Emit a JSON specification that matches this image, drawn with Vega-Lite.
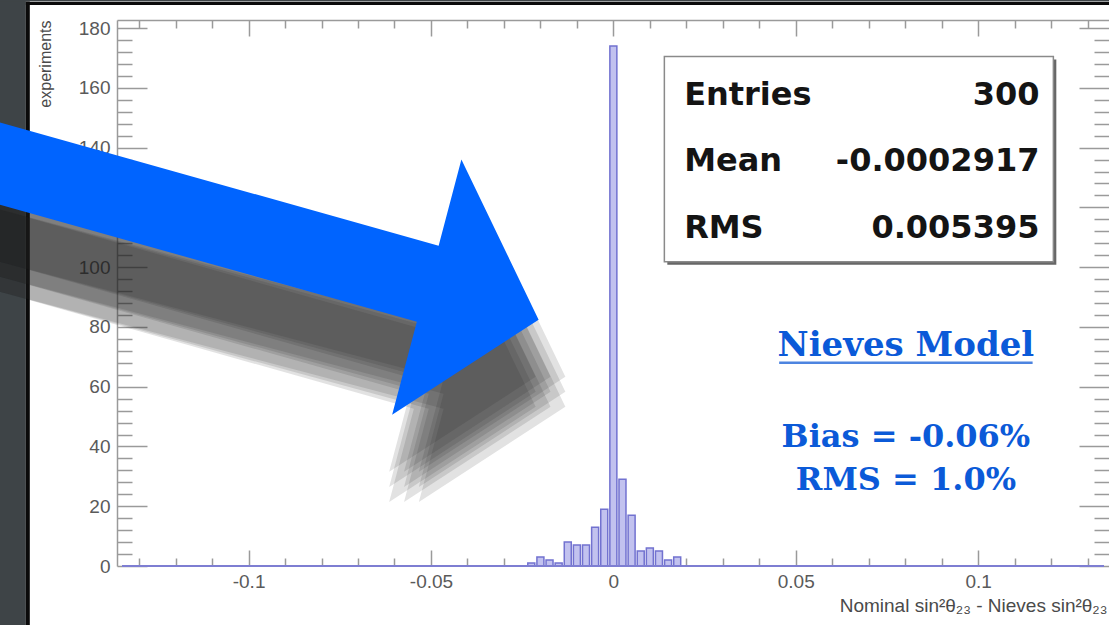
{
  "$schema": "https://vega.github.io/schema/vega-lite/v6.json",
  "autosize": {"type": "none"},
  "width": 992,
  "height": 546,
  "padding": {"left": 117, "top": 20, "right": 0, "bottom": 59},
  "background": "white",
  "config": {"view": {"stroke": null}},
  "data": {"values": [{}]},
  "datasets": {
    "hist": [
      {"x": -0.0225, "count": 1}, {"x": -0.02, "count": 3}, {"x": -0.0175, "count": 2},
      {"x": -0.015, "count": 1}, {"x": -0.0125, "count": 8}, {"x": -0.01, "count": 7},
      {"x": -0.0075, "count": 7}, {"x": -0.005, "count": 13}, {"x": -0.0025, "count": 19},
      {"x": 0, "count": 174}, {"x": 0.0025, "count": 29}, {"x": 0.005, "count": 17},
      {"x": 0.0075, "count": 5}, {"x": 0.01, "count": 6}, {"x": 0.0125, "count": 5},
      {"x": 0.015, "count": 2}, {"x": 0.0175, "count": 3}
    ],
    "shadow": [
      {"shape": "s11", "i": 1, "x": -0.1692, "y": 129.65}, {"shape": "s11", "i": 2, "x": -0.04871, "y": 88.11}, {"shape": "s11", "i": 3, "x": -0.04247, "y": 116.92}, {"shape": "s11", "i": 4, "x": -0.0213, "y": 63.32}, {"shape": "s11", "i": 5, "x": -0.06146, "y": 31.5}, {"shape": "s11", "i": 6, "x": -0.05468, "y": 62.65}, {"shape": "s11", "i": 7, "x": -0.1692, "y": 102.18},
      {"shape": "s12", "i": 1, "x": -0.1692, "y": 124.62}, {"shape": "s12", "i": 2, "x": -0.04871, "y": 83.08}, {"shape": "s12", "i": 3, "x": -0.04247, "y": 111.89}, {"shape": "s12", "i": 4, "x": -0.0213, "y": 58.29}, {"shape": "s12", "i": 5, "x": -0.06146, "y": 26.47}, {"shape": "s12", "i": 6, "x": -0.05468, "y": 57.62}, {"shape": "s12", "i": 7, "x": -0.1692, "y": 97.15},
      {"shape": "s13", "i": 1, "x": -0.1692, "y": 119.59}, {"shape": "s13", "i": 2, "x": -0.04871, "y": 78.05}, {"shape": "s13", "i": 3, "x": -0.04247, "y": 106.86}, {"shape": "s13", "i": 4, "x": -0.0213, "y": 53.26}, {"shape": "s13", "i": 5, "x": -0.06146, "y": 21.44}, {"shape": "s13", "i": 6, "x": -0.05468, "y": 52.59}, {"shape": "s13", "i": 7, "x": -0.1692, "y": 92.12},
      {"shape": "s21", "i": 1, "x": -0.1692, "y": 129.65}, {"shape": "s21", "i": 2, "x": -0.04464, "y": 88.11}, {"shape": "s21", "i": 3, "x": -0.0384, "y": 116.92}, {"shape": "s21", "i": 4, "x": -0.01723, "y": 63.32}, {"shape": "s21", "i": 5, "x": -0.05739, "y": 31.5}, {"shape": "s21", "i": 6, "x": -0.05061, "y": 62.65}, {"shape": "s21", "i": 7, "x": -0.1692, "y": 102.18},
      {"shape": "s22", "i": 1, "x": -0.1692, "y": 124.62}, {"shape": "s22", "i": 2, "x": -0.04464, "y": 83.08}, {"shape": "s22", "i": 3, "x": -0.0384, "y": 111.89}, {"shape": "s22", "i": 4, "x": -0.01723, "y": 58.29}, {"shape": "s22", "i": 5, "x": -0.05739, "y": 26.47}, {"shape": "s22", "i": 6, "x": -0.05061, "y": 57.62}, {"shape": "s22", "i": 7, "x": -0.1692, "y": 97.15},
      {"shape": "s23", "i": 1, "x": -0.1692, "y": 119.59}, {"shape": "s23", "i": 2, "x": -0.04464, "y": 78.05}, {"shape": "s23", "i": 3, "x": -0.0384, "y": 106.86}, {"shape": "s23", "i": 4, "x": -0.01723, "y": 53.26}, {"shape": "s23", "i": 5, "x": -0.05739, "y": 21.44}, {"shape": "s23", "i": 6, "x": -0.05061, "y": 52.59}, {"shape": "s23", "i": 7, "x": -0.1692, "y": 92.12},
      {"shape": "s31", "i": 1, "x": -0.1692, "y": 129.65}, {"shape": "s31", "i": 2, "x": -0.04057, "y": 88.11}, {"shape": "s31", "i": 3, "x": -0.03433, "y": 116.92}, {"shape": "s31", "i": 4, "x": -0.01316, "y": 63.32}, {"shape": "s31", "i": 5, "x": -0.05332, "y": 31.5}, {"shape": "s31", "i": 6, "x": -0.04654, "y": 62.65}, {"shape": "s31", "i": 7, "x": -0.1692, "y": 102.18},
      {"shape": "s32", "i": 1, "x": -0.1692, "y": 124.62}, {"shape": "s32", "i": 2, "x": -0.04057, "y": 83.08}, {"shape": "s32", "i": 3, "x": -0.03433, "y": 111.89}, {"shape": "s32", "i": 4, "x": -0.01316, "y": 58.29}, {"shape": "s32", "i": 5, "x": -0.05332, "y": 26.47}, {"shape": "s32", "i": 6, "x": -0.04654, "y": 57.62}, {"shape": "s32", "i": 7, "x": -0.1692, "y": 97.15},
      {"shape": "s33", "i": 1, "x": -0.1692, "y": 119.59}, {"shape": "s33", "i": 2, "x": -0.04057, "y": 78.05}, {"shape": "s33", "i": 3, "x": -0.03433, "y": 106.86}, {"shape": "s33", "i": 4, "x": -0.01316, "y": 53.26}, {"shape": "s33", "i": 5, "x": -0.05332, "y": 21.44}, {"shape": "s33", "i": 6, "x": -0.04654, "y": 52.59}, {"shape": "s33", "i": 7, "x": -0.1692, "y": 92.12}
    ],
    "arrow": [
      {"i": 1, "x": -0.1692, "y": 148.74}, {"i": 2, "x": -0.0479, "y": 107.2},
      {"i": 3, "x": -0.04166, "y": 136.01}, {"i": 4, "x": -0.02049, "y": 82.41},
      {"i": 5, "x": -0.06065, "y": 50.59}, {"i": 6, "x": -0.05387, "y": 81.74},
      {"i": 7, "x": -0.1692, "y": 121.27}
    ]
  },
  "resolve": {"axis": {"x": "independent", "y": "independent"}},
  "layer": [
    {
      "data": {"name": "hist"},
      "mark": {"type": "bar", "width": 7, "fill": "#c2c2ef", "stroke": "#7272d0", "strokeWidth": 1.5},
      "encoding": {
        "x": {
          "field": "x", "type": "quantitative",
          "scale": {"domain": [-0.1347, 0.1345], "nice": false, "zero": false},
          "axis": {
            "orient": "bottom",
            "values": [-0.13, -0.12, -0.11, -0.1, -0.09, -0.08, -0.07, -0.06, -0.05, -0.04, -0.03, -0.02, -0.01, 0, 0.01, 0.02, 0.03, 0.04, 0.05, 0.06, 0.07, 0.08, 0.09, 0.1, 0.11, 0.12, 0.13],
            "tickSize": {"condition": {"test": "abs(datum.value*20 - round(datum.value*20)) < 0.001", "value": -16}, "value": -8},
            "tickColor": "#9a9a9a", "tickWidth": 1.5,
            "domain": false, "grid": false,
            "labelExpr": "abs(datum.value*20 - round(datum.value*20)) < 0.001 ? '' + datum.value : ''",
            "labelFont": "Liberation Sans", "labelFontSize": 19, "labelColor": "#5a5a5a",
            "labelPadding": 22, "labelOverlap": false, "labelFlush": false, "labelBound": false,
            "title": "Nominal sin²θ₂₃ - Nieves sin²θ₂₃",
            "titleFont": "Liberation Sans", "titleFontSize": 19, "titleFontWeight": "normal", "titleColor": "#4a4a4a",
            "titleAnchor": "end", "titleAlign": "right", "titleX": 990, "titleY": 45, "titleBaseline": "alphabetic"
          }
        },
        "y": {
          "field": "count", "type": "quantitative",
          "scale": {"domain": [0, 182.7], "nice": false, "zero": true},
          "axis": {
            "orient": "left",
            "values": [0, 4, 8, 12, 16, 20, 24, 28, 32, 36, 40, 44, 48, 52, 56, 60, 64, 68, 72, 76, 80, 84, 88, 92, 96, 100, 104, 108, 112, 116, 120, 124, 128, 132, 136, 140, 144, 148, 152, 156, 160, 164, 168, 172, 176, 180],
            "tickSize": {"condition": {"test": "datum.value % 20 === 0", "value": -30}, "value": -15},
            "tickColor": "#9a9a9a", "tickWidth": 1.5,
            "domainColor": "#9a9a9a", "domainWidth": 1.5, "grid": false,
            "labelExpr": "datum.value % 20 === 0 ? '' + datum.value : ''",
            "labelFont": "Liberation Sans", "labelFontSize": 19, "labelColor": "#5a5a5a",
            "labelPadding": 37, "labelOverlap": false, "labelFlush": false, "labelBound": false,
            "title": "experiments",
            "titleFont": "Liberation Sans", "titleFontSize": 16, "titleFontWeight": "normal", "titleColor": "#4a4a4a",
            "titleAngle": -90, "titleAlign": "right", "titleBaseline": "middle", "titleX": -72, "titleY": 0
          }
        }
      }
    },
    {
      "mark": {"type": "rule", "color": "#7e7ed2", "strokeWidth": 2},
      "encoding": {
        "x": {
          "datum": -0.1347, "type": "quantitative",
          "axis": {
            "orient": "top",
            "values": [-0.13, -0.12, -0.11, -0.1, -0.09, -0.08, -0.07, -0.06, -0.05, -0.04, -0.03, -0.02, -0.01, 0, 0.01, 0.02, 0.03, 0.04, 0.05, 0.06, 0.07, 0.08, 0.09, 0.1, 0.11, 0.12, 0.13],
            "tickSize": {"condition": {"test": "abs(datum.value*20 - round(datum.value*20)) < 0.001", "value": -16}, "value": -8},
            "tickColor": "#9a9a9a", "tickWidth": 1.5,
            "domainColor": "#9a9a9a", "domainWidth": 1.5, "grid": false,
            "labels": false, "title": null
          }
        },
        "x2": {"datum": 0.1345},
        "y": {
          "datum": 0, "type": "quantitative",
          "axis": {
            "orient": "right",
            "values": [0, 4, 8, 12, 16, 20, 24, 28, 32, 36, 40, 44, 48, 52, 56, 60, 64, 68, 72, 76, 80, 84, 88, 92, 96, 100, 104, 108, 112, 116, 120, 124, 128, 132, 136, 140, 144, 148, 152, 156, 160, 164, 168, 172, 176, 180],
            "tickSize": {"condition": {"test": "datum.value % 20 === 0", "value": -30}, "value": -15},
            "tickColor": "#9a9a9a", "tickWidth": 1.5,
            "domain": false, "grid": false,
            "labels": false, "title": null
          }
        }
      }
    },
    {
      "mark": {"type": "rect", "fill": "#3e4447"},
      "encoding": {
        "x": {"datum": -0.18, "type": "quantitative", "axis": null},
        "x2": {"datum": -0.16106},
        "y": {"datum": -40, "type": "quantitative", "axis": null},
        "y2": {"datum": 200}
      }
    },
    {
      "mark": {"type": "rect", "fill": "#3e4447"},
      "encoding": {
        "x": {"datum": -0.18, "type": "quantitative", "axis": null},
        "x2": {"datum": 0.15},
        "y": {"datum": 188.9, "type": "quantitative", "axis": null},
        "y2": {"datum": 200}
      }
    },
    {
      "mark": {"type": "rule", "color": "#0a0a0a", "strokeWidth": 4},
      "encoding": {
        "x": {"datum": -0.16052, "type": "quantitative", "axis": null},
        "y": {"datum": 188.9, "type": "quantitative", "axis": null},
        "y2": {"datum": -40}
      }
    },
    {
      "mark": {"type": "rule", "color": "#0a0a0a", "strokeWidth": 3},
      "encoding": {
        "x": {"datum": -0.16106, "type": "quantitative", "axis": null},
        "x2": {"datum": 0.15},
        "y": {"datum": 188.2, "type": "quantitative", "axis": null}
      }
    },
    {
      "data": {"name": "shadow"},
      "mark": {"type": "line", "fill": "#222222", "fillOpacity": 0.13, "strokeWidth": 0, "stroke": null},
      "encoding": {
        "x": {"field": "x", "type": "quantitative", "axis": null},
        "y": {"field": "y", "type": "quantitative", "axis": null},
        "order": {"field": "i", "type": "quantitative"},
        "detail": {"field": "shape", "type": "nominal"}
      }
    },
    {
      "data": {"name": "arrow"},
      "mark": {"type": "line", "fill": "#0064ff", "fillOpacity": 1, "strokeWidth": 0, "stroke": null},
      "encoding": {
        "x": {"field": "x", "type": "quantitative", "axis": null},
        "y": {"field": "y", "type": "quantitative", "axis": null},
        "order": {"field": "i", "type": "quantitative"}
      }
    },
    {
      "mark": {"type": "rect", "fill": "#666666"},
      "encoding": {
        "x": {"datum": 0.01479, "type": "quantitative", "axis": null},
        "x2": {"datum": 0.12143},
        "y": {"datum": 169.5, "type": "quantitative", "axis": null},
        "y2": {"datum": 100.8}
      }
    },
    {
      "mark": {"type": "rect", "fill": "white", "stroke": "#8a8a8a", "strokeWidth": 1.5},
      "encoding": {
        "x": {"datum": 0.01398, "type": "quantitative", "axis": null},
        "x2": {"datum": 0.12062},
        "y": {"datum": 170.5, "type": "quantitative", "axis": null},
        "y2": {"datum": 101.8}
      }
    },
    {
      "mark": {"type": "text", "align": "left", "baseline": "alphabetic", "font": "DejaVu Sans", "fontWeight": "bold", "fontSize": 32, "color": "#141414", "lineBreak": "\n", "lineHeight": 66.5},
      "encoding": {
        "x": {"datum": 0.0194, "type": "quantitative", "axis": null},
        "y": {"datum": 154.4, "type": "quantitative", "axis": null},
        "text": {"value": "Entries\nMean\nRMS"}
      }
    },
    {
      "mark": {"type": "text", "align": "right", "baseline": "alphabetic", "font": "DejaVu Sans", "fontWeight": "bold", "fontSize": 32, "color": "#141414", "lineBreak": "\n", "lineHeight": 66.5},
      "encoding": {
        "x": {"datum": 0.1168, "type": "quantitative", "axis": null},
        "y": {"datum": 154.4, "type": "quantitative", "axis": null},
        "text": {"value": "300\n-0.0002917\n0.005395"}
      }
    },
    {
      "mark": {"type": "text", "align": "center", "baseline": "alphabetic", "font": "DejaVu Serif", "fontWeight": "bold", "fontSize": 34, "color": "#0b5ad8"},
      "encoding": {
        "x": {"datum": 0.0802, "type": "quantitative", "axis": null},
        "y": {"datum": 70.35, "type": "quantitative", "axis": null},
        "text": {"value": "Nieves Model"}
      }
    },
    {
      "mark": {"type": "rule", "color": "#4d84e0", "strokeWidth": 2.5},
      "encoding": {
        "x": {"datum": 0.04545, "type": "quantitative", "axis": null},
        "x2": {"datum": 0.11493},
        "y": {"datum": 68.0, "type": "quantitative", "axis": null}
      }
    },
    {
      "mark": {"type": "text", "align": "center", "baseline": "alphabetic", "font": "DejaVu Serif", "fontWeight": "bold", "fontSize": 32, "color": "#0b5ad8", "lineBreak": "\n", "lineHeight": 43},
      "encoding": {
        "x": {"datum": 0.0802, "type": "quantitative", "axis": null},
        "y": {"datum": 39.87, "type": "quantitative", "axis": null},
        "text": {"value": "Bias = -0.06%\nRMS = 1.0%"}
      }
    }
  ]
}
